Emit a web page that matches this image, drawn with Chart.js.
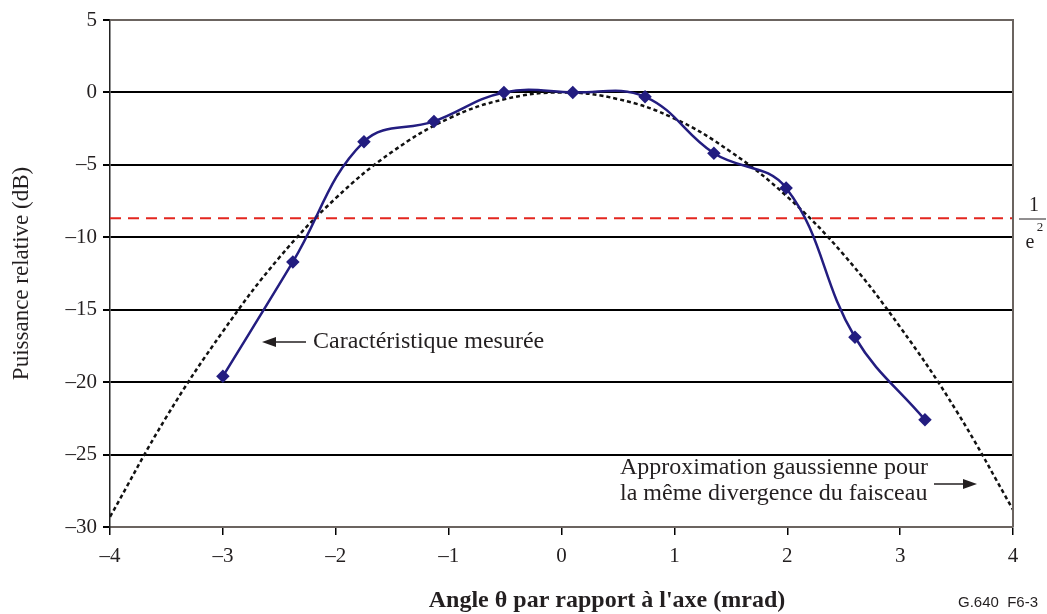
<!DOCTYPE html>
<html>
<head>
<meta charset="utf-8">
<script src="https://cdn.jsdelivr.net/npm/chart.js@4/dist/chart.umd.min.js"></script>
<style>
  html, body { margin: 0; padding: 0; background: #fff; }
  #wrap { width: 1047px; height: 614px; }
</style>
</head>
<body>
<div id="wrap"><canvas id="c" width="1047" height="614"></canvas></div>
<script>
// measured characteristic (markers)
const measAngle = [-3.0, -2.38, -1.75, -1.13, -0.51, 0.1, 0.74, 1.35, 1.99, 2.6, 3.22]
const measPower = [-19.6, -11.7, -3.4, -2.0, 0.0, 0.0, -0.3, -4.2, -6.6, -16.9, -22.6]

// gaussian approximation
const gaussAngle = [-4, -3.5, -3, -2.5, -2, -1.5, -1, -0.5, 0, 0.5, 1, 1.5, 2, 2.5, 3, 3.5, 4]
const gaussPower = [-29.3, -22.4, -16.5, -11.4, -7.3, -4.1, -1.8, -0.46, 0, -0.46, -1.8, -4.1, -7.2, -11.2, -16.2, -22.0, -28.8]

// 1/e^2 level
const levelAngle = [-4, 4]
const levelPower = [-8.69, -8.69]

const yTicks = [5, 0, -5, -10, -15, -20, -25, -30]

const serif = "'Liberation Serif', 'DejaVu Serif', serif"
const textColor = '#231f20'

const pts = (xs, ys) => xs.map((x, i) => ({ x: x, y: ys[i] }))
const fmt = v => v < 0 ? '\u2013' + Math.abs(v) : String(v)

function arrow(c, x1, y, x2, head) {
    c.beginPath()
    c.moveTo(x1, y)
    c.lineTo(x2 - Math.sign(x2 - x1) * head, y)
    c.stroke()
    c.beginPath()
    c.moveTo(x2, y)
    c.lineTo(x2 - Math.sign(x2 - x1) * head, y - 5)
    c.lineTo(x2 - Math.sign(x2 - x1) * head, y + 5)
    c.closePath()
    c.fill()
}

const notes = {
    id: 'notes',
    afterDraw(chart) {
        const c = chart.ctx
        const a = chart.chartArea
        c.save()
        // frame top + right
        c.strokeStyle = '#6b6460'
        c.lineWidth = 2
        c.beginPath()
        c.moveTo(a.left, a.top)
        c.lineTo(a.right, a.top)
        c.lineTo(a.right, a.bottom)
        c.stroke()

        c.fillStyle = textColor
        c.strokeStyle = textColor
        c.lineWidth = 1.5
        c.font = '24px ' + serif
        c.textBaseline = 'middle'
        c.textAlign = 'left'
        c.fillText('Caractéristique mesurée', 313, 342)
        arrow(c, 306, 342, 262, 14)

        c.fillText('Approximation gaussienne pour', 620, 468)
        c.fillText('la même divergence du faisceau', 620, 494)
        arrow(c, 934, 484, 977, 14)

        // 1/e2
        c.font = '20px ' + serif
        c.textAlign = 'center'
        c.fillText('1', 1034, 206)
        c.lineWidth = 1
        c.beginPath()
        c.moveTo(1019, 219)
        c.lineTo(1046, 219)
        c.stroke()
        c.fillText('e', 1030, 243)
        c.font = '13px ' + serif
        c.fillText('2', 1040, 228)

        // x title
        c.font = 'bold 24px ' + serif
        c.textAlign = 'center'
        c.fillText("Angle \u03b8 par rapport à l'axe (mrad)", 607, 601)

        c.font = "15px 'Liberation Sans', Arial, sans-serif"
        c.textAlign = 'left'
        c.fillText('G.640  F6-3', 958, 603)
        c.restore()
    }
}

new Chart(document.getElementById('c'), {
    type: 'line',
    data: {
        datasets: [{
            data: pts(measAngle, measPower),
            borderColor: '#231d80',
            backgroundColor: '#231d80',
            borderWidth: 2.5,
            pointStyle: 'rectRot',
            pointRadius: 5,
            tension: 0.4
        }, {
            data: pts(gaussAngle, gaussPower),
            borderColor: '#111',
            borderWidth: 2.5,
            borderDash: [4, 3],
            pointRadius: 0,
            tension: 0.4
        }, {
            data: pts(levelAngle, levelPower),
            borderColor: '#e3261f',
            borderWidth: 2,
            borderDash: [11, 7],
            pointRadius: 0
        }]
    },
    options: {
        responsive: false,
        animation: false,
        layout: { padding: { top: 20, right: 34, left: 0, bottom: 0 } },
        plugins: {
            legend: { display: false },
            tooltip: { enabled: false }
        },
        scales: {
            x: {
                type: 'linear',
                min: -4,
                max: 4,
                afterFit: s => { s.height = 87 },
                ticks: {
                    stepSize: 1,
                    padding: 9,
                    color: textColor,
                    font: { family: serif, size: 21 },
                    callback: fmt
                },
                grid: { drawOnChartArea: false, tickLength: 8, tickColor: '#000', lineWidth: 1.5 },
                border: { color: '#6b6460', width: 2 }
            },
            y: {
                min: -30,
                max: 5,
                afterFit: s => { s.width = 110 },
                afterBuildTicks: s => { s.ticks = yTicks.map(v => ({ value: v })) },
                ticks: {
                    padding: 6,
                    color: textColor,
                    font: { family: serif, size: 21 },
                    callback: fmt
                },
                grid: {
                    color: ctx => (ctx.tick && (ctx.tick.value === 5 || ctx.tick.value === -30)) ? '#6b6460' : '#000',
                    lineWidth: 2,
                    tickLength: 7,
                    tickColor: '#000'
                },
                border: { color: '#222', width: 1.5 },
                title: {
                    display: true,
                    text: 'Puissance relative (dB)',
                    color: textColor,
                    font: { family: serif, size: 23 },
                    padding: { top: 8, bottom: 0 }
                }
            }
        }
    },
    plugins: [notes]
})
</script>
</body>
</html>
